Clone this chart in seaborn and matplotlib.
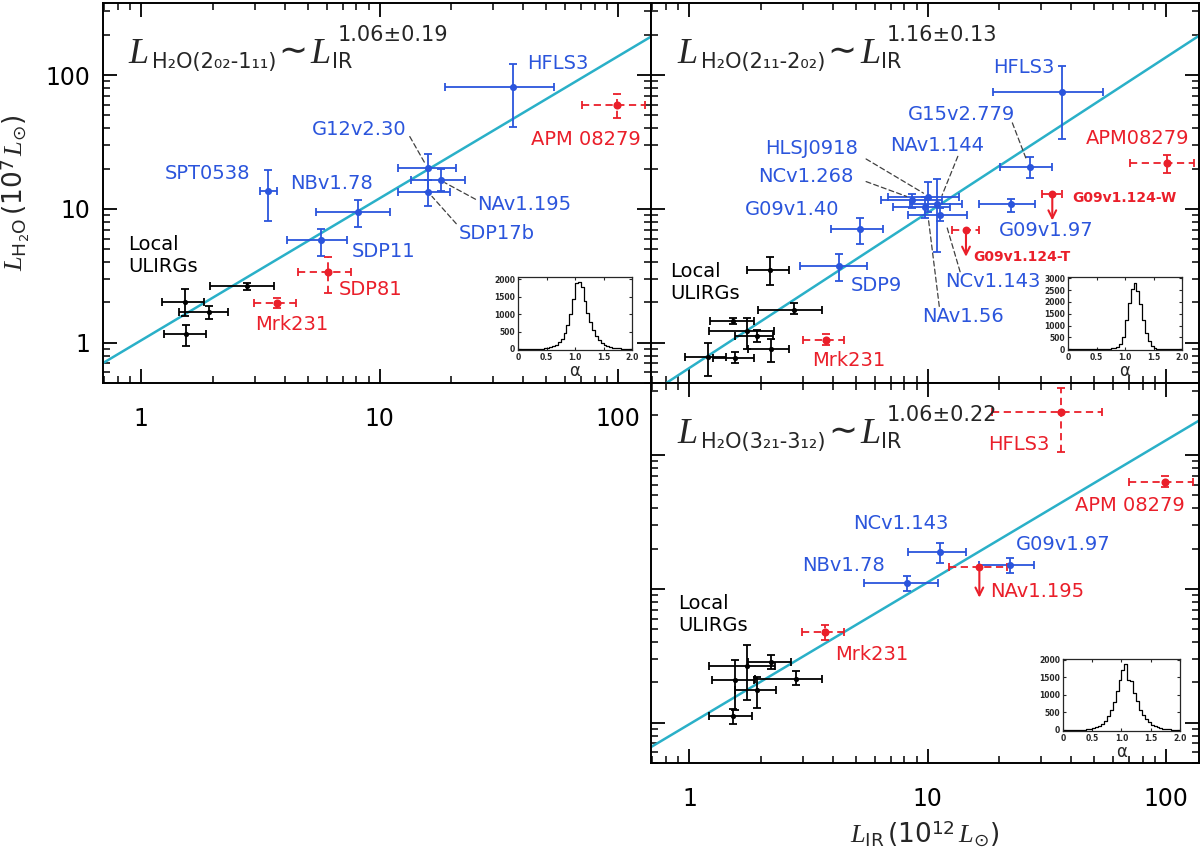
import numpy as np
import pandas as pd
import matplotlib
matplotlib.use('Agg')
import matplotlib.pyplot as plt
from matplotlib.transforms import IdentityTransform
from matplotlib.ticker import LogLocator, NullFormatter, FixedLocator, FixedFormatter
import seaborn as sns

# --- Axis limits (shared by the three panels) ---
XMIN, XMAX = 0.69, 138.0
YMIN, YMAX = 0.5, 345.0

# --- Panel A: H2O(2_02-1_11) ---
a_blue_names = ['HFLS3', 'G12v2.30', 'NAv1.195', 'SDP17b', 'SPT0538', 'NBv1.78', 'SDP11']
a_blue_x = [36.4, 16.0, 18.1, 16.0, 3.41, 8.15, 5.69]
a_blue_xlo = [18.9, 12.0, 13.5, 12.0, 3.16, 5.42, 4.10]
a_blue_xhi = [54.2, 20.9, 22.8, 19.8, 3.70, 11.1, 7.29]
a_blue_y = [81.0, 20.2, 16.5, 13.4, 13.7, 9.47, 5.89]
a_blue_ylo = [41.2, 13.3, 13.5, 10.6, 8.07, 7.28, 4.48]
a_blue_yhi = [120.0, 25.8, 19.8, 16.5, 19.4, 11.6, 7.11]

a_red_names = ['APM 08279', 'SDP81', 'Mrk231']
a_red_x = [99.0, 6.08, 3.71]
a_red_xlo = [70.8, 4.55, 2.96]
a_red_xhi = [130.0, 7.6, 4.47]
a_red_y = [60.0, 3.36, 1.99]
a_red_ylo = [47.6, 2.36, 1.82]
a_red_yhi = [72.0, 4.35, 2.16]

a_blk_x = [2.77, 1.52, 1.92, 1.54]
a_blk_xlo = [1.94, 1.22, 1.44, 1.24]
a_blk_xhi = [3.60, 1.83, 2.31, 1.87]
a_blk_y = [2.64, 2.02, 1.69, 1.17]
a_blk_ylo = [2.47, 1.58, 1.51, 0.94]
a_blk_yhi = [2.80, 2.50, 1.88, 1.35]

a_norm, a_slope, a_slope_err = 1.044, 1.06, 0.19

# --- Panel B: H2O(2_11-2_02) ---
b_blue_names = ['HFLS3', 'G15v2.779', 'G09v1.97', 'NCv1.268', 'HLSJ0918', 'NAv1.56',
                'NAv1.144', 'NCv1.143', 'G09v1.40', 'SDP9']
b_blue_x = [36.7, 27.0, 22.4, 8.57, 10.0, 9.71, 11.0, 11.3, 5.22, 4.26]
b_blue_xlo = [18.9, 20.2, 16.5, 6.35, 6.79, 7.13, 8.4, 8.3, 3.93, 2.90]
b_blue_xhi = [54.6, 33.4, 28.3, 11.5, 13.6, 12.4, 14.0, 14.6, 6.53, 5.59]
b_blue_y = [74.5, 20.5, 10.8, 11.6, 12.2, 10.3, 10.8, 8.97, 7.04, 3.74]
b_blue_ylo = [33.5, 17.0, 9.4, 10.1, 9.4, 8.6, 4.75, 8.1, 5.46, 2.88]
b_blue_yhi = [117.0, 24.3, 11.9, 13.0, 15.8, 12.2, 16.6, 10.1, 8.6, 4.6]

b_red_names = ['APM08279', 'Mrk231']
b_red_x = [101.0, 3.74]
b_red_xlo = [71.0, 2.99]
b_red_xhi = [132.0, 4.47]
b_red_y = [22.0, 1.05]
b_red_ylo = [18.5, 0.97]
b_red_yhi = [25.4, 1.17]

b_lim_names = ['G09v1.124-W', 'G09v1.124-T']
b_lim_x = [33.4, 14.5]
b_lim_xlo = [30.1, 12.7]
b_lim_xhi = [36.7, 16.5]
b_lim_y = [13.0, 6.96]
b_lim_yend = [8.2, 4.39]

b_blk_x = [2.17, 2.76, 1.53, 1.93, 2.21, 1.55, 1.20, 1.75]
b_blk_xlo = [1.75, 1.95, 1.22, 1.55, 1.77, 1.26, 0.96, 1.21]
b_blk_xhi = [2.61, 3.59, 1.86, 2.25, 2.63, 1.86, 1.43, 2.27]
b_blk_y = [3.48, 1.75, 1.45, 1.12, 0.90, 0.77, 0.78, 1.22]
b_blk_ylo = [2.69, 1.65, 1.38, 1.01, 0.72, 0.71, 0.56, 0.90]
b_blk_yhi = [4.35, 1.97, 1.53, 1.24, 1.06, 0.85, 1.00, 1.53]

b_norm, b_slope, b_slope_err = 0.648, 1.16, 0.13

# --- Panel C: H2O(3_21-3_12) ---
c_blue_names = ['NCv1.143', 'G09v1.97', 'NBv1.78']
c_blue_x = [11.3, 22.2, 8.19]
c_blue_xlo = [8.25, 16.4, 5.43]
c_blue_xhi = [14.5, 28.0, 11.1]
c_blue_y = [18.9, 15.0, 11.0]
c_blue_ylo = [15.7, 13.2, 9.66]
c_blue_yhi = [22.2, 17.0, 12.5]

c_red_names = ['HFLS3', 'APM 08279', 'Mrk231']
c_red_x = [36.5, 99.6, 3.72]
c_red_xlo = [18.6, 70.1, 2.98]
c_red_xhi = [53.9, 130.0, 4.45]
c_red_y = [211.0, 63.1, 4.77]
c_red_ylo = [106.0, 57.3, 4.15]
c_red_yhi = [315.0, 70.0, 5.35]

c_lim_names = ['NAv1.195']
c_lim_x = [16.5]
c_lim_xlo = [12.3]
c_lim_xhi = [21.6]
c_lim_y = [14.6]
c_lim_yend = [8.6]

c_blk_x = [2.21, 1.74, 1.55, 2.79, 1.93, 1.53]
c_blk_xlo = [1.77, 1.21, 1.25, 1.88, 1.55, 1.21]
c_blk_xhi = [2.66, 2.28, 1.86, 3.59, 2.30, 1.84]
c_blk_y = [2.84, 2.65, 2.08, 2.12, 1.75, 1.12]
c_blk_ylo = [2.50, 1.48, 1.24, 1.90, 1.29, 0.98]
c_blk_yhi = [3.20, 3.80, 2.94, 2.43, 2.19, 1.26]

c_norm, c_slope, c_slope_err = 0.975, 1.06, 0.22

# --- Inset histograms of the slope alpha (bins of 0.05 from 0 to 2) ---
alpha_edges = np.linspace(0.0, 2.0, 41)
a_hist = [0, 0, 0, 0, 0, 2, 5, 8, 12, 18, 30, 55, 80, 120, 190, 290, 450, 680, 1000, 1420,
          1880, 1920, 1760, 1360, 1020, 760, 540, 380, 260, 180, 120, 80, 55, 35, 22, 14, 8, 5, 3, 2]
b_hist = [0, 0, 0, 0, 0, 0, 0, 0, 0, 0, 0, 0, 5, 10, 20, 35, 60, 90, 240, 530,
          1250, 1970, 2550, 2790, 2450, 1900, 1250, 700, 360, 160, 70, 30, 12, 5, 2, 0, 0, 0, 0, 0]
c_hist = [0, 0, 0, 0, 3, 5, 8, 12, 18, 28, 45, 75, 115, 170, 260, 390, 560, 800, 1100, 1420,
          1720, 1890, 1420, 1380, 1060, 820, 580, 430, 310, 220, 155, 105, 70, 48, 32, 20, 13, 8, 5, 3]

BLUE = '#2b55dc'
RED = '#ea1f2a'
CYAN = '#2ab0c8'
BLACK = 'black'

sns.set_style('ticks')
plt.rcParams['font.family'] = ['DejaVu Sans']
plt.rcParams['mathtext.fontset'] = 'custom'
plt.rcParams['mathtext.it'] = 'Liberation Serif:italic'
plt.rcParams['mathtext.rm'] = 'DejaVu Sans'
plt.rcParams['mathtext.sf'] = 'DejaVu Sans'

fig = plt.figure(figsize=(12, 8.51), dpi=100)
W, H = 0.4567, 0.4465
ax_a = fig.add_axes([0.0858, 0.5499, W, H])
ax_b = fig.add_axes([0.5425, 0.5499, W, H])
ax_c = fig.add_axes([0.5425, 0.1034, W, H])


def style_axes(ax, xlabels, ylabels):
    ax.set_xscale('log')
    ax.set_yscale('log')
    ax.set_xlim(XMIN, XMAX)
    ax.set_ylim(YMIN, YMAX)
    for s in ax.spines.values():
        s.set_linewidth(1.4)
        s.set_color('black')
    for axis in (ax.xaxis, ax.yaxis):
        axis.set_major_locator(FixedLocator([1, 10, 100]))
        axis.set_major_formatter(FixedFormatter(['1', '10', '100']))
        axis.set_minor_locator(LogLocator(base=10, subs=np.arange(2, 10)))
        axis.set_minor_formatter(NullFormatter())
    ax.tick_params(which='both', direction='in', top=True, right=True,
                   colors='black', labelsize=17)
    ax.tick_params(which='major', length=10, width=1.3)
    ax.tick_params(which='minor', length=5, width=1.1)
    ax.tick_params(axis='x', pad=17, labelbottom=xlabels)
    ax.tick_params(axis='y', pad=9, labelleft=ylabels)


def draw_group(ax, x, xlo, xhi, y, ylo, yhi, color, size, dashed=False):
    x, xlo, xhi = np.array(x), np.array(xlo), np.array(xhi)
    y, ylo, yhi = np.array(y), np.array(ylo), np.array(yhi)
    _, _, bars = ax.errorbar(x, y, xerr=[x - xlo, xhi - x], yerr=[y - ylo, yhi - y],
                             fmt='none', ecolor=color, elinewidth=1.3, capsize=3,
                             capthick=1.3, zorder=3)
    if dashed:
        for b in bars:
            b.set_linestyle((0, (4, 2.5)))
    sns.scatterplot(x=x, y=y, color=color, s=size, edgecolor=color, linewidth=0,
                    ax=ax, zorder=4, legend=False)


def draw_limits(ax, x, xlo, xhi, y, yend):
    x, xlo, xhi = np.array(x), np.array(xlo), np.array(xhi)
    _, _, bars = ax.errorbar(x, y, xerr=[x - xlo, xhi - x], fmt='none', ecolor=RED,
                             elinewidth=1.3, capsize=3, capthick=1.3, zorder=3)
    for b in bars:
        b.set_linestyle((0, (4, 2.5)))
    sns.scatterplot(x=x, y=y, color=RED, s=32, linewidth=0, ax=ax, zorder=4, legend=False)
    for xi, y0, y1 in zip(x, y, yend):
        ax.annotate('', xy=(xi, y1), xytext=(xi, y0),
                    arrowprops=dict(arrowstyle='->', color=RED, lw=1.5,
                                    shrinkA=0, shrinkB=0, mutation_scale=14))


def draw_fit(ax, norm, slope):
    fx = np.array([XMIN, XMAX])
    sns.lineplot(x=fx, y=norm * fx ** slope, color=CYAN, lw=1.8, ax=ax, zorder=2)


def put_labels(ax, labels):
    for text, x, y, color, size, weight in labels:
        ax.text(x, y, text, color=color, fontsize=size, fontweight=weight,
                ha='left', va='center', linespacing=1.2, zorder=5)


def put_leaders(ax, leaders):
    for (x0, y0), (x1, y1) in leaders:
        ax.annotate('', xy=(x1, y1), xytext=(x0, y0),
                    arrowprops=dict(arrowstyle='-', ls=(0, (4, 2.5)), lw=0.9,
                                    color='0.25', shrinkA=0, shrinkB=0))


def eq_title(ax, xf, yf, sub, power):
    ren = fig.canvas.get_renderer()
    x0, y0 = ax.transAxes.transform((xf, yf))
    tr = IdentityTransform()
    big = dict(family='Liberation Serif', style='italic', fontsize=26)
    small = dict(family='DejaVu Sans', fontsize=15)

    def put(s, x, dy, **kw):
        t = ax.text(x, y0 + dy, s, transform=tr, ha='left', va='baseline', **kw)
        return t.get_window_extent(ren).x1

    x = put('L', x0, 0, **big)
    x = put(sub, x + 4, -5, **small)
    x = put('\u223c', x + 2, 1, family='DejaVu Sans', fontsize=25)
    xl = put('L', x + 3, 0, **big)
    put('IR', xl + 1, -5, **small)
    put(power, xl + 7, 22, family='DejaVu Sans', fontsize=15)


def inset_hist(rect, counts, ymax, yticks):
    ins = fig.add_axes(rect)
    df_hist = pd.DataFrame({'alpha': (alpha_edges[:-1] + alpha_edges[1:]) / 2,
                            'count': counts})
    sns.histplot(data=df_hist, x='alpha', weights='count', bins=list(alpha_edges),
                 element='step', fill=False, color='black', linewidth=0.9, ax=ins)
    ins.set_xlim(0, 2)
    ins.set_ylim(-30, ymax)
    ins.set_xticks([0, 0.5, 1.0, 1.5, 2.0])
    ins.set_xticklabels(['0', '0.5', '1.0', '1.5', '2.0'])
    ins.set_yticks(yticks)
    ins.set_yticklabels([str(v) for v in yticks])
    ins.tick_params(direction='in', top=True, right=True, length=2.5, width=0.8,
                    labelsize=5.5, pad=2)
    for lab in ins.get_xticklabels() + ins.get_yticklabels():
        lab.set_fontweight('bold')
    ins.set_ylabel('')
    ins.set_xlabel('\u03b1', fontsize=12, labelpad=0)
    for s in ins.spines.values():
        s.set_linewidth(0.9)


style_axes(ax_a, True, True)
style_axes(ax_b, False, False)
style_axes(ax_c, True, False)

# Panel A
draw_fit(ax_a, a_norm, a_slope)
draw_group(ax_a, a_blk_x, a_blk_xlo, a_blk_xhi, a_blk_y, a_blk_ylo, a_blk_yhi, BLACK, 14)
draw_group(ax_a, a_blue_x, a_blue_xlo, a_blue_xhi, a_blue_y, a_blue_ylo, a_blue_yhi, BLUE, 26)
draw_group(ax_a, a_red_x, a_red_xlo, a_red_xhi, a_red_y, a_red_ylo, a_red_yhi, RED, 34, True)
put_labels(ax_a, [
    ('HFLS3', 41.8, 122, BLUE, 14, 'normal'),
    ('APM 08279', 43.4, 32.8, RED, 14, 'normal'),
    ('G12v2.30', 5.22, 38.9, BLUE, 14, 'normal'),
    ('SPT0538', 1.26, 18.5, BLUE, 14, 'normal'),
    ('NBv1.78', 4.22, 15.4, BLUE, 14, 'normal'),
    ('NAv1.195', 25.8, 10.8, BLUE, 14, 'normal'),
    ('SDP17b', 21.6, 6.6, BLUE, 14, 'normal'),
    ('SDP11', 7.65, 4.77, BLUE, 14, 'normal'),
    ('SDP81', 6.77, 2.50, RED, 14, 'normal'),
    ('Mrk231', 3.01, 1.37, RED, 14, 'normal'),
    ('Local\nULIRGs', 0.88, 4.48, BLACK, 14, 'normal'),
])
put_leaders(ax_a, [((13.4, 34.7), (15.5, 22.0)),
                   ((25.3, 11.8), (18.8, 15.7)),
                   ((21.0, 7.75), (16.6, 12.4))])
eq_title(ax_a, 0.0456, 0.842, 'H\u2082O(2\u2080\u2082-1\u2081\u2081)',
         '%.2f\u00b1%.2f' % (a_slope, a_slope_err))

# Panel B
draw_fit(ax_b, b_norm, b_slope)
draw_group(ax_b, b_blk_x, b_blk_xlo, b_blk_xhi, b_blk_y, b_blk_ylo, b_blk_yhi, BLACK, 14)
draw_group(ax_b, b_blue_x, b_blue_xlo, b_blue_xhi, b_blue_y, b_blue_ylo, b_blue_yhi, BLUE, 26)
draw_group(ax_b, b_red_x, b_red_xlo, b_red_xhi, b_red_y, b_red_ylo, b_red_yhi, RED, 34, True)
draw_limits(ax_b, b_lim_x, b_lim_xlo, b_lim_xhi, b_lim_y, b_lim_yend)
put_labels(ax_b, [
    ('HFLS3', 18.8, 113, BLUE, 14, 'normal'),
    ('G15v2.779', 8.3, 50.7, BLUE, 14, 'normal'),
    ('APM08279', 46.2, 33.3, RED, 14, 'normal'),
    ('HLSJ0918', 2.07, 28.5, BLUE, 14, 'normal'),
    ('NAv1.144', 6.95, 29.9, BLUE, 14, 'normal'),
    ('NCv1.268', 1.95, 17.5, BLUE, 14, 'normal'),
    ('G09v1.40', 1.71, 9.83, BLUE, 14, 'normal'),
    ('G09v1.124-W', 40.7, 12.0, RED, 10, 'bold'),
    ('G09v1.97', 19.9, 6.88, BLUE, 14, 'normal'),
    ('G09v1.124-T', 15.5, 4.34, RED, 10, 'bold'),
    ('NCv1.143', 11.9, 2.85, BLUE, 14, 'normal'),
    ('SDP9', 4.75, 2.69, BLUE, 14, 'normal'),
    ('NAv1.56', 9.46, 1.58, BLUE, 14, 'normal'),
    ('Mrk231', 3.28, 0.737, RED, 14, 'normal'),
    ('Local\nULIRGs', 0.83, 2.83, BLACK, 14, 'normal'),
])
put_leaders(ax_b, [((22.7, 43.9), (26.1, 23.0)),
                   ((5.52, 23.6), (9.62, 13.1)),
                   ((5.52, 16.0), (8.16, 12.4)),
                   ((13.4, 24.7), (11.5, 12.6)),
                   ((11.2, 1.87), (10.1, 8.2)),
                   ((13.7, 3.39), (12.0, 7.55))])
eq_title(ax_b, 0.048, 0.842, 'H\u2082O(2\u2081\u2081-2\u2080\u2082)',
         '%.2f\u00b1%.2f' % (b_slope, b_slope_err))

# Panel C
draw_fit(ax_c, c_norm, c_slope)
draw_group(ax_c, c_blk_x, c_blk_xlo, c_blk_xhi, c_blk_y, c_blk_ylo, c_blk_yhi, BLACK, 14)
draw_group(ax_c, c_blue_x, c_blue_xlo, c_blue_xhi, c_blue_y, c_blue_ylo, c_blue_yhi, BLUE, 26)
draw_group(ax_c, c_red_x, c_red_xlo, c_red_xhi, c_red_y, c_red_ylo, c_red_yhi, RED, 34, True)
draw_limits(ax_c, c_lim_x, c_lim_xlo, c_lim_xhi, c_lim_y, c_lim_yend)
put_labels(ax_c, [
    ('HFLS3', 17.9, 119, RED, 14, 'normal'),
    ('APM 08279', 41.6, 41.8, RED, 14, 'normal'),
    ('NCv1.143', 4.86, 31.0, BLUE, 14, 'normal'),
    ('G09v1.97', 23.5, 21.3, BLUE, 14, 'normal'),
    ('NBv1.78', 2.98, 15.0, BLUE, 14, 'normal'),
    ('NAv1.195', 18.3, 9.5, RED, 14, 'normal'),
    ('Mrk231', 4.08, 3.25, RED, 14, 'normal'),
    ('Local\nULIRGs', 0.895, 6.43, BLACK, 14, 'normal'),
])
eq_title(ax_c, 0.048, 0.843, 'H\u2082O(3\u2082\u2081-3\u2081\u2082)',
         '%.2f\u00b1%.2f' % (c_slope, c_slope_err))

ax_a.set_ylabel(r'$L_{\mathrm{H_2O}}\,(10^{7}\,L_{\odot})$', fontsize=19, labelpad=10)
ax_c.set_xlabel(r'$L_{\mathrm{IR}}\,(10^{12}\,L_{\odot})$', fontsize=19, labelpad=6)

inset_hist([0.4317, 0.5887, 0.095, 0.0858], a_hist, 2060, [0, 500, 1000, 1500, 2000])
inset_hist([0.8900, 0.5887, 0.095, 0.0858], b_hist, 3050, [0, 500, 1000, 1500, 2000, 2500, 3000])
inset_hist([0.8858, 0.1410, 0.0975, 0.0846], c_hist, 2020, [0, 500, 1000, 1500, 2000])

fig.savefig('out.png', dpi=100)
